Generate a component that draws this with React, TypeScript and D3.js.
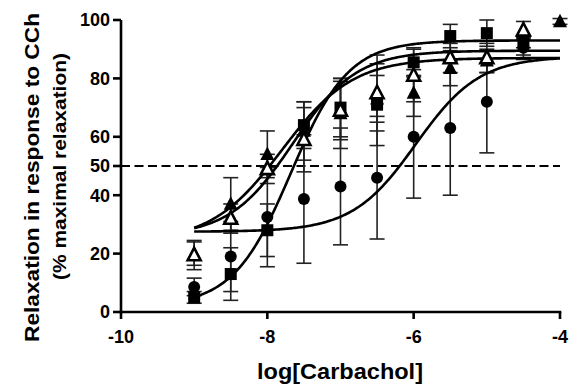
import React from "react";
import * as d3 from "d3";

const logConc = [-9, -8.5, -8, -7.5, -7, -6.5, -6, -5.5, -5, -4.5, -4];

const circleMean = [8.6, 19, 32.5, 38.7, 43, 46, 60, 63, 72, 90.5, null];
const circleErr = [3, 12, 17, 22, 20, 21, 21, 23, 17.5, 4, null];

const squareMean = [5, 13, 28, 64, 70, 71, 85.5, 94.5, 95.5, 92.5, null];
const squareErr = [2, 9, 9, 8, 10, 14, 5, 4, 4.5, 2, null];

const triFilledMean = [20, 37, 54, 62, 68, 73, 75, 83.5, 86, 91, 99.5];
const triFilledErr = [4, 9, 8, 10, 12, 8, 8, 6, 4, 3, 1];

const triOpenMean = [19.5, 32, 49, 59, 69, 75, 81, 87, 87, 96.5, null];
const triOpenErr = [5, 5, 5, 11, 10, 13, 9, 5, 5, 3, null];

// sigmoid fit parameters: [circle, square, filled triangle, open triangle]
const fitBottom = [27.5, 2, 24, 26];
const fitTop = [87.5, 93, 87, 89.5];
const fitLogEC50 = [-5.97, -7.68, -7.8, -7.65];
const fitHill = [1.0, 1.1, 0.9, 1.0];

const xTicks = [-10, -8, -6, -4];
const yTicks = [0, 20, 40, 50, 60, 80, 100];

const W = 569;
const H = 385;
const FONT = "Arial, 'Liberation Sans', sans-serif";

export default function App() {
  const x = d3.scaleLinear().domain([-10, -4]).range([121, 560]);
  const y = d3.scaleLinear().domain([0, 100]).range([312, 20]);

  const curveX = d3.range(-9, -3.999, 0.02);
  const line = d3
    .line<[number, number]>()
    .x((d) => x(d[0]))
    .y((d) => y(d[1]));

  const curves = fitBottom.map((b, i) => {
    const t = fitTop[i];
    const e = fitLogEC50[i];
    const h = fitHill[i];
    const pts: [number, number][] = curveX.map((v) => [
      v,
      b + (t - b) / (1 + Math.pow(10, (e - v) * h)),
    ]);
    return line(pts) || "";
  });

  const series = [
    { mean: circleMean, err: circleErr, kind: "circle" },
    { mean: squareMean, err: squareErr, kind: "square" },
    { mean: triFilledMean, err: triFilledErr, kind: "tri" },
    { mean: triOpenMean, err: triOpenErr, kind: "open" },
  ];

  const triPath = (cx: number, cy: number, s: number) => {
    const hw = s / 2;
    const hh = s * 0.48;
    return `M${cx},${cy - hh}L${cx + hw},${cy + hh}L${cx - hw},${cy + hh}Z`;
  };

  const marker = (kind: string, cx: number, cy: number, key: string) => {
    if (kind === "circle")
      return <circle key={key} cx={cx} cy={cy} r={6} fill="#000" />;
    if (kind === "square")
      return <rect key={key} x={cx - 6} y={cy - 6} width={12} height={12} fill="#000" />;
    if (kind === "tri")
      return <path key={key} d={triPath(cx, cy - 1, 14)} fill="#000" />;
    return (
      <path
        key={key}
        d={triPath(cx, cy - 1, 13)}
        fill="#fff"
        stroke="#000"
        strokeWidth={2.6}
        strokeLinejoin="miter"
      />
    );
  };

  return (
    <svg
      width={W}
      height={H}
      style={{ position: "absolute", left: 0, top: 0, background: "#fff" }}
      fontFamily={FONT}
    >
      <rect width={W} height={H} fill="#fff" />
      {/* dashed 50% line */}
      <line
        x1={x(-10)}
        x2={x(-4)}
        y1={y(50)}
        y2={y(50)}
        stroke="#000"
        strokeWidth={2.2}
        strokeDasharray="9,4.5"
      />
      {/* error bars */}
      {series.map((s, si) =>
        logConc.map((c, i) => {
          const m = s.mean[i];
          const e = s.err[i];
          if (m == null || e == null) return null;
          const cx = x(c);
          return (
            <g key={`e${si}-${i}`} stroke="#222" strokeWidth={1.6}>
              <line x1={cx} x2={cx} y1={y(m - e)} y2={y(m + e)} />
              <line x1={cx - 7.5} x2={cx + 7.5} y1={y(m + e)} y2={y(m + e)} />
              <line x1={cx - 7.5} x2={cx + 7.5} y1={y(m - e)} y2={y(m - e)} />
            </g>
          );
        })
      )}
      {/* fitted curves */}
      {curves.map((d, i) => (
        <path key={`c${i}`} d={d} fill="none" stroke="#000" strokeWidth={2.6} />
      ))}
      {/* markers */}
      {series.map((s, si) =>
        logConc.map((c, i) => {
          const m = s.mean[i];
          if (m == null) return null;
          return marker(s.kind, x(c), y(m), `m${si}-${i}`);
        })
      )}
      {/* axes */}
      <g stroke="#000" strokeWidth={2.6} fill="none">
        <line x1={x(-10)} x2={x(-10)} y1={y(0) + 1.3} y2={y(100)} />
        <line x1={x(-10) - 1.3} x2={x(-4) + 1.3} y1={y(0)} y2={y(0)} />
        {yTicks.map((t) => (
          <line key={`yt${t}`} x1={x(-10) - 8} x2={x(-10)} y1={y(t)} y2={y(t)} />
        ))}
        {xTicks.map((t) => (
          <line key={`xt${t}`} x1={x(t)} x2={x(t)} y1={y(0)} y2={y(0) + 7} />
        ))}
      </g>
      {yTicks.map((t) => (
        <text
          key={`yl${t}`}
          x={x(-10) - 11}
          y={y(t)}
          dy="0.36em"
          textAnchor="end"
          fontSize={18}
          fontWeight="bold"
        >
          {t}
        </text>
      ))}
      {xTicks.map((t) => (
        <text
          key={`xl${t}`}
          x={x(t)}
          y={y(0) + 31}
          textAnchor="middle"
          fontSize={18}
          fontWeight="bold"
        >
          {t}
        </text>
      ))}
      <text
        x={340}
        y={379}
        textAnchor="middle"
        fontSize={22}
        fontWeight="bold"
        textLength={166}
        lengthAdjust="spacingAndGlyphs"
      >
        log[Carbachol]
      </text>
      <text
        transform={`translate(39,177.5) rotate(-90)`}
        textAnchor="middle"
        fontSize={20}
        fontWeight="bold"
        textLength={329}
        lengthAdjust="spacingAndGlyphs"
      >
        Relaxation in response to CCh
      </text>
      <text
        transform={`translate(66,166.5) rotate(-90)`}
        textAnchor="middle"
        fontSize={18}
        fontWeight="bold"
        textLength={227}
        lengthAdjust="spacingAndGlyphs"
      >
        (% maximal relaxation)
      </text>
    </svg>
  );
}
